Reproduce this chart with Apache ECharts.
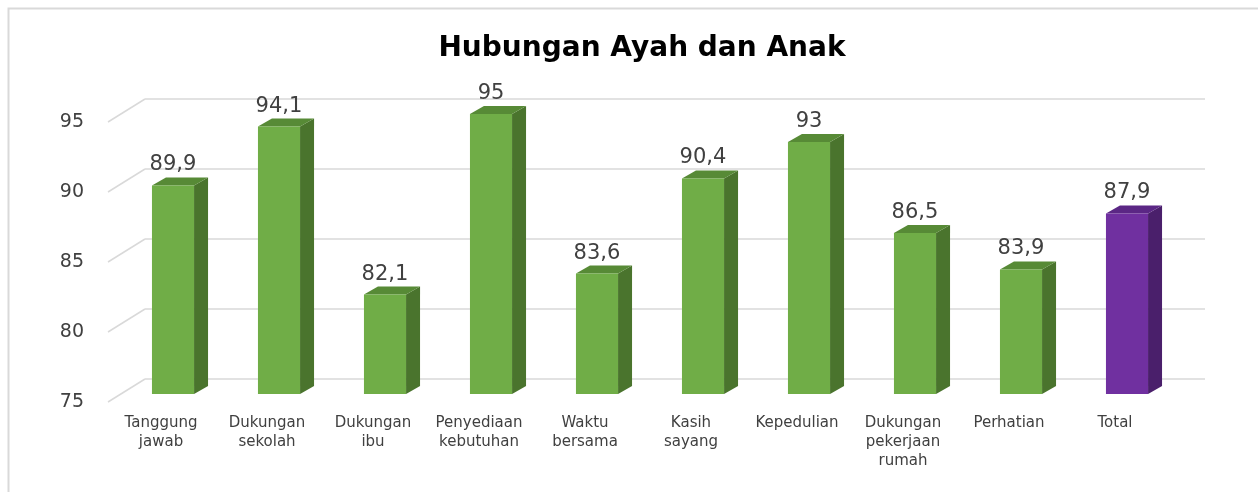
<!DOCTYPE html>
<html>
<head>
<meta charset="utf-8">
<script src="https://cdn.jsdelivr.net/npm/echarts@6/dist/echarts.min.js"></script>
<style>
  html, body { margin: 0; padding: 0; background: #fff; }
  #chart { width: 1258px; height: 492px; }
</style>
</head>
<body>
<div id="chart"></div>
<script>
// data
const categories = ['Tanggung jawab', 'Dukungan sekolah', 'Dukungan ibu', 'Penyediaan kebutuhan',
  'Waktu bersama', 'Kasih sayang', 'Kepedulian', 'Dukungan pekerjaan rumah', 'Perhatian', 'Total'];
const values = [89.9, 94.1, 82.1, 95, 83.6, 90.4, 93, 86.5, 83.9, 87.9];
const yTicks = [75, 80, 85, 90, 95];

// 3D look: front plane is shifted left/down from the back wall
const FRONT_DX = 37, FRONT_DY = 23;   // back wall -> front edge of floor
const BAR_DX = 25, BAR_DY = 15;       // back wall -> bar front face
const DEPTH_X = 14, DEPTH_Y = 8;      // bar depth
const FONT = '"DejaVu Sans", sans-serif';

const green = { front: '#70ad47', side: '#4a742d', top: '#578a36' };
const purple = { front: '#7030a0', side: '#4a1f6b', top: '#5b2785' };

const fmtNum = (v) => String(v).replace('.', ',');

const chart = echarts.init(document.getElementById('chart'));

chart.setOption({
  animation: false,
  title: {
    text: 'Hubungan Ayah dan Anak',
    left: 637, top: 30, textAlign: 'center',
    textStyle: { fontFamily: FONT, fontSize: 28, fontWeight: 'bold', color: '#000' }
  },
  graphic: [{
    type: 'polyline', silent: true,
    shape: { points: [[8.5, 492], [8.5, 8.5], [1258, 8.5]] },
    style: { stroke: '#d9d9d9', lineWidth: 2, fill: null }
  }],
  grid: [
    // back wall
    { left: 145, right: 53, top: 99, bottom: 113 },
    // front plane (labels only)
    { left: 145 - FRONT_DX, right: 53 + FRONT_DX, top: 99 + FRONT_DY, bottom: 113 - FRONT_DY }
  ],
  xAxis: [
    { type: 'category', data: categories, gridIndex: 0,
      axisLine: { show: false }, axisTick: { show: false }, axisLabel: { show: false } },
    { type: 'category', data: categories, gridIndex: 1,
      axisLine: { show: false }, axisTick: { show: false },
      axisLabel: {
        margin: 12, interval: 0, color: '#404040', fontFamily: FONT, fontSize: 15, lineHeight: 19,
        formatter: (v) => v.split(' ').join('\n')
      } }
  ],
  yAxis: [
    { type: 'value', gridIndex: 0, min: 75, max: 95, interval: 5,
      axisLine: { show: false }, axisTick: { show: false }, axisLabel: { show: false },
      splitLine: { lineStyle: { color: '#d9d9d9', width: 1.5 } } },
    { type: 'value', gridIndex: 1, min: 75, max: 95, interval: 5,
      axisLine: { show: false }, axisTick: { show: false }, splitLine: { show: false },
      axisLabel: { margin: 24, color: '#404040', fontFamily: FONT, fontSize: 19 } }
  ],
  series: [
    // diagonal floor/side lines for each gridline
    {
      type: 'custom', xAxisIndex: 0, yAxisIndex: 0, silent: true, z: 1,
      data: yTicks.map((t) => [0, t]),
      renderItem: (params, api) => {
        const p = api.coord([api.value(0), api.value(1)]);
        const band = api.size([1, 0])[0];
        const x = p[0] - band / 2;
        return {
          type: 'line',
          shape: { x1: x, y1: p[1], x2: x - FRONT_DX, y2: p[1] + FRONT_DY },
          style: { stroke: '#d9d9d9', lineWidth: 1.5 }
        };
      }
    },
    // 3D bars
    {
      type: 'custom', xAxisIndex: 0, yAxisIndex: 0, z: 3,
      data: values.map((v, i) => [i, v]),
      renderItem: (params, api) => {
        const i = api.value(0), v = api.value(1);
        const top = api.coord([i, v]);
        const base = api.coord([i, 75]);
        const band = api.size([1, 0])[0];
        const w = band * 0.397;
        const cx = top[0] - BAR_DX;
        const x0 = cx - w / 2, x1 = cx + w / 2;
        const yt = top[1] + BAR_DY, yb = base[1] + BAR_DY;
        const c = categories[i] === 'Total' ? purple : green;
        return {
          type: 'group',
          children: [
            { type: 'polygon',
              shape: { points: [[x1, yt], [x1 + DEPTH_X, yt - DEPTH_Y], [x1 + DEPTH_X, yb - DEPTH_Y], [x1, yb]] },
              style: { fill: c.side } },
            { type: 'polygon',
              shape: { points: [[x0, yt], [x1, yt], [x1 + DEPTH_X, yt - DEPTH_Y], [x0 + DEPTH_X, yt - DEPTH_Y]] },
              style: { fill: c.top } },
            { type: 'rect',
              shape: { x: x0, y: yt, width: w, height: yb - yt },
              style: { fill: c.front } },
            { type: 'text',
              style: { x: cx, y: yt - DEPTH_Y - 2, text: fmtNum(v), align: 'center', verticalAlign: 'bottom',
                fontFamily: FONT, fontSize: 21, fill: '#404040' } }
          ]
        };
      }
    }
  ]
});
</script>
</body>
</html>
